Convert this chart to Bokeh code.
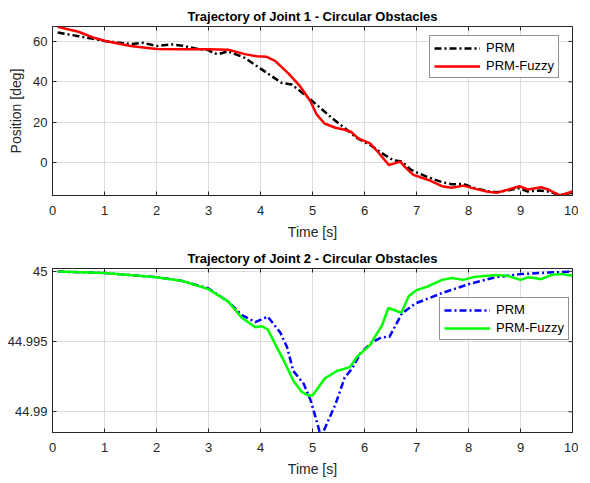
import math
from bokeh.plotting import figure
from bokeh.layouts import column
from bokeh.models import Range1d, FixedTicker, Legend, LegendItem
from bokeh.embed import file_html
from bokeh.resources import INLINE

# ---------------- data ----------------
title1 = "Trajectory of Joint 1 - Circular Obstacles"
title2 = "Trajectory of Joint 2 - Circular Obstacles"
x_label = "Time [s]"
y1_label = "Position [deg]"
series_names = ["PRM", "PRM-Fuzzy"]

x_ticks = [0, 1, 2, 3, 4, 5, 6, 7, 8, 9, 10]
y1_ticks = [0, 20, 40, 60]
y2_ticks = [44.99, 44.995, 45.0]
y2_tick_labels = ["44.99", "44.995", "45"]

j1_prm_t = [0.1, 0.5, 1.0, 1.5, 1.75, 2.0, 2.3, 2.5, 2.8, 3.0, 3.1, 3.2, 3.38, 3.7, 4.03,
            4.22, 4.41, 4.6, 4.85, 5.11, 5.37, 5.63, 5.85, 6.11, 6.37, 6.56, 6.72, 6.88,
            7.04, 7.23, 7.49, 7.68, 7.9, 8.13, 8.38, 8.54, 8.77, 8.98, 9.14, 9.37, 9.53,
            9.76, 10.0]
j1_prm_v = [64.4, 62.6, 60.2, 58.7, 59.3, 57.7, 58.5, 57.9, 56.2, 55.7, 54.1, 53.8, 55.1,
            51.8, 46.0, 42.7, 39.4, 38.6, 33.6, 27.9, 22.1, 16.8, 12.2, 8.6, 4.0, 1.0, 0.4,
            -3.4, -5.4, -7.4, -9.8, -10.8, -10.7, -12.8, -14.3, -14.8, -13.8, -12.8, -14.4,
            -13.9, -14.4, -16.1, -15.1]

j1_fuzzy_t = [0.1, 0.5, 0.8, 1.0, 1.5, 2.0, 2.5, 3.0, 3.38, 3.7, 3.93, 4.12, 4.28, 4.53,
              4.76, 4.96, 5.08, 5.23, 5.44, 5.6, 5.74, 5.88, 6.11, 6.27, 6.47, 6.69, 6.78,
              6.94, 7.23, 7.49, 7.68, 7.9, 8.13, 8.35, 8.54, 8.77, 8.98, 9.14, 9.4, 9.53,
              9.76, 10.0]
j1_fuzzy_v = [67.2, 64.8, 61.8, 60.3, 57.7, 56.2, 56.1, 56.1, 55.9, 53.7, 52.6, 52.4, 50.4,
              44.3, 37.8, 30.3, 23.8, 19.3, 17.2, 16.3, 15.2, 11.9, 9.4, 4.8, -1.3, 0.4,
              -2.3, -6.2, -8.7, -11.8, -12.6, -11.5, -13.1, -14.4, -15.1, -13.4, -11.8,
              -13.4, -12.3, -13.4, -16.4, -14.4]

j2_prm_t = [0.1, 1.0, 2.0, 2.5, 3.0, 3.38, 3.64, 3.9, 4.14, 4.38, 4.51, 4.63, 4.83, 4.96,
            5.06, 5.15, 5.21, 5.44, 5.62, 5.76, 5.92, 6.14, 6.33, 6.48, 6.72, 6.97, 7.49,
            8.0, 8.51, 9.0, 9.53, 10.0]
j2_prm_v = [44.99998, 44.99988, 44.99958, 44.99931, 44.99878, 44.99784, 44.99689, 44.99639,
            44.99677, 44.99564, 44.99461, 44.99291, 44.99200, 44.99086, 44.98960, 44.98840,
            44.98860, 44.99052, 44.99245, 44.99307, 44.99416, 44.99495, 44.99530, 44.99534,
            44.99700, 44.99770, 44.99845, 44.99908, 44.99957, 44.99980, 44.99991, 44.99998]

j2_fuzzy_t = [0.1, 1.0, 2.0, 2.5, 3.0, 3.38, 3.64, 3.9, 4.03, 4.14, 4.28, 4.47, 4.63, 4.79,
              4.92, 5.0, 5.24, 5.47, 5.72, 5.85, 6.11, 6.21, 6.33, 6.46, 6.71, 6.85, 7.0,
              7.23, 7.49, 7.68, 7.9, 8.13, 8.38, 8.54, 8.77, 9.0, 9.14, 9.27, 9.4, 9.6, 9.8,
              10.0]
j2_fuzzy_v = [44.99998, 44.99988, 44.99958, 44.99931, 44.99873, 44.99784, 44.99670,
              44.99602, 44.99609, 44.99586, 44.99484, 44.99348, 44.99223, 44.99143,
              44.99116, 44.99116, 44.99239, 44.99291, 44.99318, 44.99389, 44.99477,
              44.99541, 44.99609, 44.99739, 44.99705, 44.99822, 44.99866, 44.99894,
              44.99939, 44.99953, 44.99939, 44.99962, 44.99968, 44.99973, 44.99966,
              44.99939, 44.99957, 44.99953, 44.99944, 44.99975, 44.99980, 44.99968]

# ---------------- styling helpers ----------------
FONT = "Liberation Sans"
TXT = "#262626"
LEFT = 52
RIGHT = 6


def style_axis(ax):
    ax.axis_line_color = TXT
    ax.major_tick_line_color = TXT
    ax.major_tick_in = 4
    ax.major_tick_out = 0
    ax.minor_tick_line_color = None
    ax.major_label_text_font = FONT
    ax.major_label_text_font_size = "13px"
    ax.major_label_text_color = TXT
    ax.axis_label_text_font = FONT
    ax.axis_label_text_font_size = "14px"
    ax.axis_label_text_font_style = "normal"
    ax.axis_label_text_color = TXT


def make_fig(title, y_lo, y_hi, y_ticks, border_top, border_bottom):
    p = figure(width=LEFT + 520 + RIGHT, height=border_top + 169 + border_bottom,
               output_backend="svg", toolbar_location=None,
               x_range=Range1d(0, 10), y_range=Range1d(y_lo, y_hi),
               min_border_left=LEFT, min_border_right=RIGHT, min_border_top=border_top,
               min_border_bottom=border_bottom, title=title)
    p.title.text_font = FONT
    p.title.text_font_size = "13px"
    p.title.text_font_style = "bold"
    p.title.text_color = "#000000"
    p.title.align = "center"
    p.title.standoff = 6
    p.outline_line_color = TXT
    p.outline_line_width = 1
    p.outline_line_alpha = 1
    style_axis(p.xaxis[0])
    style_axis(p.yaxis[0])
    p.xaxis[0].ticker = FixedTicker(ticks=x_ticks)
    p.xaxis[0].axis_label = x_label
    p.xaxis[0].major_label_standoff = 10
    p.xaxis[0].axis_label_standoff = 6
    p.yaxis[0].major_label_standoff = 5
    p.yaxis[0].ticker = FixedTicker(ticks=y_ticks)
    p.grid.grid_line_color = "#dcdcdc"
    p.grid.grid_line_width = 1
    p.xgrid.ticker = FixedTicker(ticks=x_ticks)
    p.ygrid.ticker = FixedTicker(ticks=y_ticks)
    # inner tick marks on the top and right edges of the box (clipped to the frame)
    p.scatter(x_ticks, [y_hi] * len(x_ticks), marker="dash", angle=math.pi / 2,
              size=8, line_color=TXT, line_width=1)
    p.scatter([10] * len(y_ticks), y_ticks, marker="dash", size=8,
              line_color=TXT, line_width=1)
    return p


def add_legend(p, renderers, x, y):
    items = [LegendItem(label=n, renderers=[r]) for n, r in zip(series_names, renderers)]
    lg = Legend(items=items, location=(x, y), glyph_width=46, glyph_height=14,
                label_height=14, label_standoff=6, padding=4, spacing=3, margin=0,
                label_text_font=FONT, label_text_font_size="13px",
                label_text_color="#000000", border_line_color=TXT,
                border_line_width=1, background_fill_color="white",
                background_fill_alpha=1)
    p.add_layout(lg, "center")


# ---------------- figure 1 ----------------
p1 = make_fig(title1, -16.4, 67.4, y1_ticks, 26, 50)
p1.yaxis[0].axis_label = y1_label
p1.yaxis[0].axis_label_standoff = 6
r1 = p1.line(j1_prm_t, j1_prm_v, line_color="black", line_width=2.5, line_dash="7 3 2 3")
r2 = p1.line(j1_fuzzy_t, j1_fuzzy_v, line_color="#ff0000", line_width=2.5)
add_legend(p1, [r1, r2], 377, 117)

# ---------------- figure 2 ----------------
p2 = make_fig(title2, 44.98853, 45.0002, y2_ticks, 20, 45)
p2.yaxis[0].major_label_overrides = {t: s for t, s in zip(y2_ticks, y2_tick_labels)}
r3 = p2.line(j2_prm_t, j2_prm_v, line_color="#0000ff", line_width=2.5, line_dash="7 3 2 3")
r4 = p2.line(j2_fuzzy_t, j2_fuzzy_v, line_color="#00ff00", line_width=2.5)
add_legend(p2, [r3, r4], 387, 92)

layout = column(p1, p2, spacing=0)
open("out.html", "w").write(file_html(layout, INLINE))
